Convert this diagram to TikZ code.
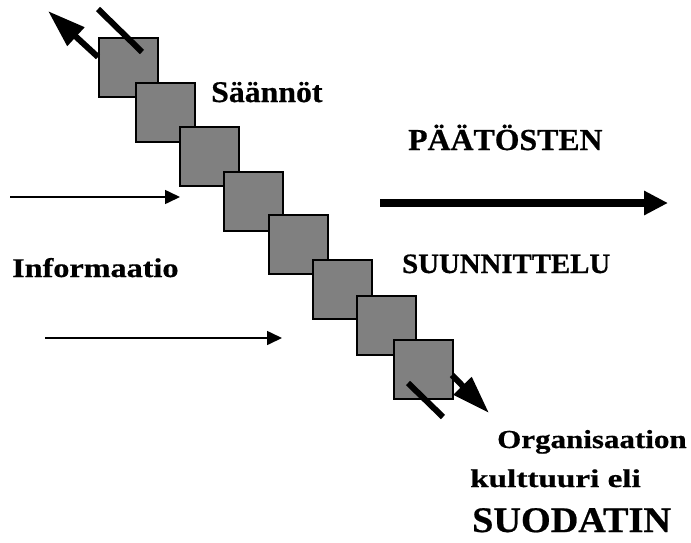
\documentclass[tikz,border=0pt]{standalone}
\usepackage{fontspec}
\setmainfont{Liberation Serif}[BoldFeatures={FakeBold=0.6}]
\usepackage{graphicx}
\usetikzlibrary{arrows.meta}
% bold label text, magnified from 10pt: horizontal and vertical factors
\newcommand{\biglabel}[3]{\scalebox{#1}[#2]{\bfseries #3}}
\begin{document}
\begin{tikzpicture}[x=1pt,y=-1pt,
  block/.style={draw=black,line width=2pt,fill=black!50,
    minimum width=59pt,minimum height=59pt,inner sep=0pt,outer sep=0pt},
  lbl/.style={anchor=base west,inner sep=0pt},
  thin/.style={line width=1.6pt,-{Triangle[length=15pt,width=14pt]}},
  bigarrow/.style={line width=8pt,-{Triangle[length=24pt,width=23pt]}},
  filterarrow/.style={line width=6pt,-{Triangle[length=38pt,width=24pt]}},
  bar/.style={line width=6pt}]
\useasboundingbox (0,0) rectangle (691,542);
% staircase of filter blocks
\node[block] (b1) at (128.5,67.5) {};
\node[block] (b2) at (165.5,112) {};
\node[block] (b3) at (209.5,156.5) {};
\node[block] (b4) at (253.5,201) {};
\node[block] (b5) at (298,244.5) {};
\node[block] (b6) at (342,289) {};
\node[block] (b7) at (386,325.5) {};
\node[block] (b8) at (423,369) {};
% end arrows and cross bars
\coordinate (tl) at (48,11);
\coordinate (tlstart) at (98,57);
\draw[filterarrow] (tlstart) -- (tl);
\coordinate (c1a) at (98,9);
\coordinate (c1b) at (142,52);
\draw[bar] (c1a) -- (c1b);
\coordinate (brstart) at (452,375);
\coordinate (br) at (489,413);
\draw[filterarrow] (brstart) -- (br);
\coordinate (c2a) at (408,383);
\coordinate (c2b) at (443,417);
\draw[bar] (c2a) -- (c2b);
% information inputs
\coordinate (i1a) at (10,197);
\coordinate (i1b) at (180,197);
\draw[thin] (i1a) -- (i1b);
\coordinate (i2a) at (45,338);
\coordinate (i2b) at (282,338);
\draw[thin] (i2a) -- (i2b);
% decision making
\coordinate (d1) at (380,203);
\coordinate (d2) at (668,203);
\draw[bigarrow] (d1) -- (d2);
% labels
\node[lbl] (t1) at (211,102) {\biglabel{3.18}{3.0}{Säännöt}};
\node[lbl] (t2) at (408,150) {\biglabel{3.18}{3.05}{PÄÄTÖSTEN}};
\node[lbl] (t3) at (402,273) {\biglabel{2.88}{2.8}{SUUNNITTELU}};
\node[lbl] (t4) at (12,277) {\biglabel{3.22}{2.7}{Informaatio}};
\node[lbl] (t5) at (497,448) {\biglabel{3.1}{2.6}{Organisaation}};
\node[lbl] (t6) at (470,487) {\biglabel{3.32}{2.55}{kulttuuri eli}};
\node[lbl] (t7) at (472,532) {\biglabel{3.82}{3.6}{SUODATIN}};
\end{tikzpicture}
\end{document}
